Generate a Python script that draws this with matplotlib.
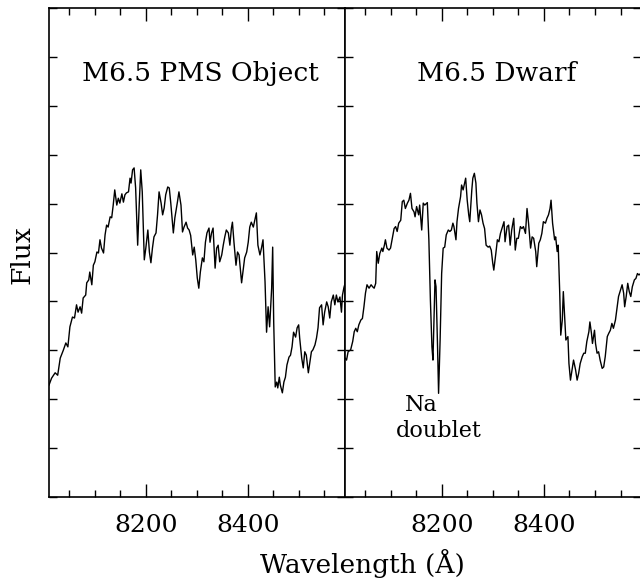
import matplotlib
matplotlib.use("Agg")
import matplotlib.pyplot as plt
from matplotlib.ticker import MultipleLocator

plt.rcParams['font.family'] = ['DejaVu Serif']

# Спектр M6.5 PMS (длина волны, Å / поток)
pms_wave = [8010, 8015, 8022, 8027, 8032, 8038, 8043, 8047, 8051, 8056, 8060, 8064, 8067, 8071,
            8074, 8077, 8082, 8084, 8088, 8090, 8094, 8097, 8100, 8104, 8107, 8110, 8113, 8117,
            8120, 8123, 8126, 8130, 8133, 8136, 8139, 8143, 8146, 8149, 8153, 8156, 8159, 8162,
            8166, 8169, 8171, 8174, 8177, 8180, 8184, 8187, 8190, 8193, 8197, 8200, 8204, 8207,
            8210, 8213, 8216, 8220, 8223, 8226, 8230, 8233, 8236, 8239, 8243, 8246, 8249, 8254,
            8257, 8262, 8265, 8269, 8272, 8275, 8279, 8282, 8285, 8288, 8292, 8295, 8298, 8301,
            8304, 8307, 8311, 8314, 8317, 8320, 8324, 8326, 8329, 8332, 8336, 8339, 8342, 8345,
            8349, 8352, 8355, 8358, 8362, 8365, 8368, 8370, 8373, 8377, 8380, 8383, 8386, 8388,
            8391, 8394, 8398, 8401, 8404, 8407, 8411, 8414, 8417, 8420, 8424, 8427, 8430, 8434,
            8437, 8440, 8443, 8447, 8449, 8451, 8454, 8457, 8459, 8462, 8464, 8468, 8471, 8474,
            8477, 8481, 8484, 8487, 8490, 8494, 8497, 8500, 8502, 8506, 8509, 8512, 8515, 8519,
            8522, 8525, 8528, 8532, 8535, 8538, 8541, 8545, 8548, 8551, 8555, 8558, 8561, 8564,
            8568, 8571, 8574, 8577, 8581, 8584, 8586, 8589, 8592]
pms_flux = [2.29, 2.43, 2.54, 2.49, 2.84, 3.00, 3.15, 3.07, 3.48, 3.68, 3.66, 3.93, 3.78, 3.89,
            3.76, 4.07, 4.13, 4.38, 4.44, 4.60, 4.34, 4.74, 4.81, 5.01, 4.99, 5.26, 5.09, 4.99,
            5.36, 5.56, 5.52, 5.73, 5.71, 5.97, 6.28, 5.97, 6.11, 6.01, 6.20, 6.03, 6.18, 6.22,
            6.24, 6.52, 6.42, 6.69, 6.73, 6.32, 5.15, 5.97, 6.69, 6.24, 4.85, 5.09, 5.46, 5.01,
            4.79, 5.09, 5.32, 5.40, 5.77, 6.24, 6.01, 5.77, 5.91, 6.18, 6.34, 6.32, 6.01, 5.40,
            5.71, 6.03, 6.24, 5.97, 5.42, 5.52, 5.62, 5.50, 5.46, 5.35, 4.95, 5.11, 4.85, 4.48,
            4.27, 4.60, 4.89, 4.81, 5.21, 5.40, 5.50, 5.21, 5.40, 5.50, 4.68, 5.09, 5.15, 4.81,
            4.95, 5.15, 5.32, 5.46, 5.40, 5.15, 5.50, 5.62, 5.21, 4.74, 5.01, 4.95, 4.60, 4.38,
            4.64, 4.89, 5.01, 5.21, 5.52, 5.62, 5.52, 5.66, 5.81, 5.15, 4.95, 5.09, 5.26, 4.40,
            3.37, 3.89, 3.48, 4.27, 5.11, 3.58, 2.25, 2.35, 2.23, 2.45, 2.29, 2.13, 2.35, 2.45,
            2.70, 2.86, 2.90, 3.07, 3.37, 3.27, 3.46, 3.52, 3.25, 2.84, 2.64, 2.97, 2.90, 2.54,
            2.76, 2.97, 3.01, 3.11, 3.25, 3.46, 3.87, 3.93, 3.52, 3.78, 3.99, 3.89, 3.66, 3.99,
            4.13, 3.93, 4.13, 3.99, 4.09, 3.78, 4.13, 4.29, 4.40]

# Спектр M6.5 карлика
dwarf_wave = [8011, 8014, 8017, 8022, 8026, 8029, 8032, 8035, 8038, 8042, 8045, 8048, 8051, 8054,
              8058, 8062, 8065, 8068, 8071, 8073, 8076, 8079, 8083, 8085, 8088, 8090, 8093, 8097,
              8100, 8103, 8107, 8110, 8113, 8116, 8120, 8123, 8126, 8129, 8133, 8136, 8139, 8142,
              8146, 8148, 8151, 8155, 8157, 8161, 8164, 8167, 8172, 8175, 8178, 8181, 8183, 8187,
              8189, 8192, 8194, 8197, 8200, 8203, 8206, 8209, 8213, 8216, 8219, 8222, 8224, 8228,
              8230, 8233, 8237, 8239, 8242, 8245, 8247, 8250, 8253, 8255, 8259, 8261, 8264, 8267,
              8269, 8272, 8275, 8278, 8281, 8284, 8287, 8291, 8294, 8297, 8300, 8302, 8306, 8309,
              8312, 8315, 8319, 8322, 8324, 8328, 8331, 8334, 8337, 8341, 8344, 8347, 8350, 8354,
              8357, 8360, 8364, 8367, 8370, 8374, 8377, 8380, 8384, 8386, 8390, 8393, 8396, 8399,
              8403, 8406, 8409, 8412, 8414, 8417, 8421, 8423, 8426, 8428, 8431, 8433, 8436, 8438,
              8441, 8443, 8447, 8449, 8452, 8455, 8458, 8462, 8465, 8468, 8471, 8475, 8478, 8481,
              8484, 8488, 8490, 8493, 8495, 8499, 8501, 8504, 8507, 8510, 8514, 8517, 8520, 8524,
              8527, 8530, 8533, 8536, 8540, 8543, 8546, 8549, 8553, 8556, 8558, 8561, 8564, 8567,
              8570, 8573, 8577, 8580, 8583, 8586, 8592]
dwarf_flux = [2.84, 2.80, 2.97, 3.01, 3.18, 3.38, 3.45, 3.38, 3.52, 3.62, 3.65, 3.89, 4.17, 4.34,
              4.27, 4.34, 4.30, 4.27, 4.37, 5.02, 4.78, 4.98, 5.09, 5.02, 5.15, 5.26, 5.09, 5.05,
              5.09, 5.26, 5.49, 5.53, 5.43, 5.60, 5.66, 6.04, 6.07, 5.90, 6.01, 6.07, 6.21, 5.90,
              5.83, 5.73, 5.94, 5.77, 5.97, 5.46, 6.01, 5.97, 6.02, 5.26, 4.03, 3.07, 2.80, 4.44,
              4.30, 3.07, 2.12, 3.21, 4.57, 5.09, 5.11, 5.36, 5.46, 5.43, 5.46, 5.60, 5.53, 5.26,
              5.63, 5.90, 6.14, 6.38, 6.28, 6.42, 6.52, 6.07, 5.77, 5.63, 6.28, 6.52, 6.62, 6.42,
              6.01, 5.63, 5.87, 5.77, 5.60, 5.49, 5.15, 5.11, 5.13, 5.05, 4.78, 4.64, 4.98, 5.26,
              5.22, 5.39, 5.53, 5.63, 5.22, 5.53, 5.56, 5.15, 5.46, 5.70, 5.05, 5.29, 5.29, 5.53,
              5.49, 5.53, 5.39, 5.90, 5.60, 5.09, 5.32, 5.29, 5.02, 4.71, 5.19, 5.26, 5.39, 5.63,
              5.60, 5.70, 5.77, 5.90, 6.07, 5.60, 5.26, 5.32, 5.02, 5.15, 4.17, 3.31, 3.62, 4.20,
              3.62, 3.21, 3.28, 2.73, 2.39, 2.60, 2.80, 2.60, 2.39, 2.53, 2.73, 2.87, 2.94, 2.94,
              3.18, 3.38, 3.58, 3.35, 3.14, 3.41, 3.14, 2.94, 2.97, 2.80, 2.63, 2.66, 2.87, 3.28,
              3.35, 3.41, 3.55, 3.45, 3.62, 3.86, 4.10, 4.20, 4.34, 4.17, 3.89, 4.10, 4.37, 4.20,
              4.10, 4.30, 4.44, 4.47, 4.57, 4.54, 4.60]

labels = ['M6.5 PMS Object', 'M6.5 Dwarf']
xlim = (8010, 8590)
ylim = (0, 10)

fig = plt.figure(figsize=(6.4, 5.81), dpi=100)
ax1 = fig.add_axes([0.0766, 0.1446, 0.4617, 0.8416])
ax2 = fig.add_axes([0.5383, 0.1446, 0.4633, 0.8416])

for ax, w, f, lab in [(ax1, pms_wave, pms_flux, labels[0]), (ax2, dwarf_wave, dwarf_flux, labels[1])]:
    ax.plot(w, f, color='black', linewidth=1.0)
    ax.set_xlim(*xlim)
    ax.set_ylim(*ylim)
    ax.xaxis.set_major_locator(MultipleLocator(200))
    ax.xaxis.set_minor_locator(MultipleLocator(50))
    ax.yaxis.set_major_locator(MultipleLocator(1))
    ax.tick_params(axis='both', which='both', direction='in', top=True, right=True,
                   width=1.0, labelsize=18, pad=12)
    ax.tick_params(axis='x', which='major', length=9.5)
    ax.tick_params(axis='x', which='minor', length=5)
    ax.tick_params(axis='y', which='major', length=6)
    ax.set_yticklabels([])
    for s in ax.spines.values():
        s.set_linewidth(1.2)
    ax.text(8308, 8.67, lab, ha='center', va='center', fontsize=19)

ax2.text(8161, 1.88, 'Na', ha='center', va='center', fontsize=16)
ax2.text(8194, 1.34, 'doublet', ha='center', va='center', fontsize=16)

fig.text(0.5656, 0.006, 'Wavelength (Å)', ha='center', va='bottom', fontsize=19)
fig.text(0.034, 0.561, 'Flux', ha='center', va='center', rotation=90, fontsize=19)

fig.savefig('out.png', dpi=100)
